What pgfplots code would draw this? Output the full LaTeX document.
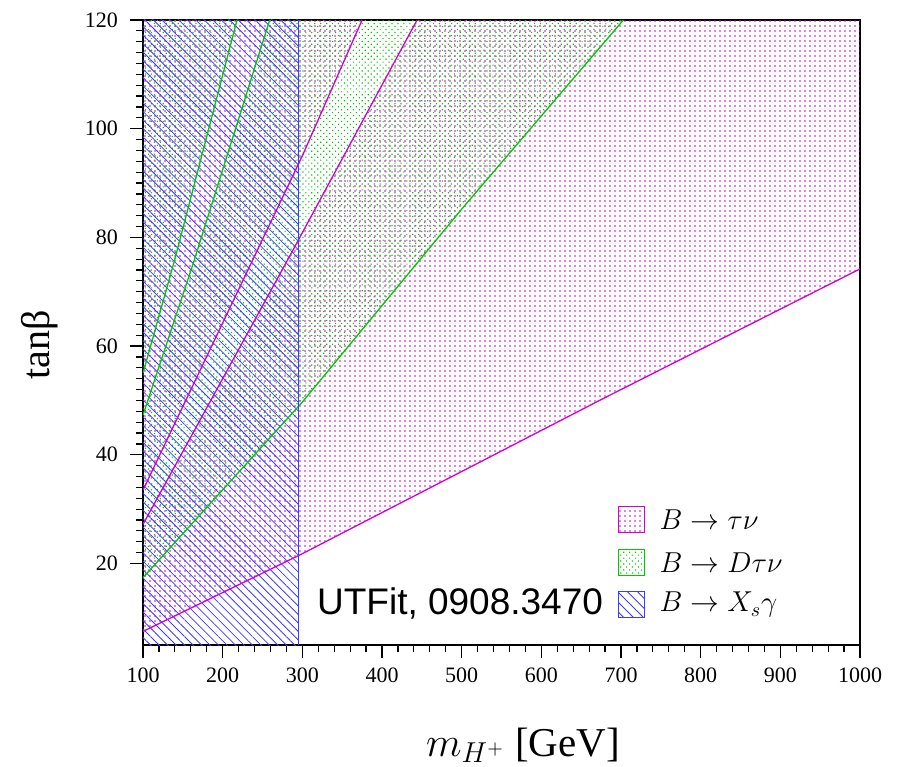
\documentclass[border=0pt]{standalone}
\usepackage{pgfplots}
\pgfplotsset{compat=1.18}
\usepackage{fontspec}
\setmainfont{Liberation Serif}
\setsansfont{Liberation Sans}
\usetikzlibrary{patterns.meta,calc}

\definecolor{mag}{RGB}{210,0,210}
\definecolor{grn}{RGB}{0,200,0}
\definecolor{blu}{RGB}{60,60,255}

\tikzset{
  magpat/.style={pattern={Dots[distance=2.5pt, radius=0.4pt]}, pattern color=mag},
  grnpat/.style={pattern={Dots[distance=2.1pt, radius=0.42pt, angle=45]}, pattern color=grn},
  blupat/.style={pattern={Lines[angle=-45, distance=3pt, line width=0.4pt]}, pattern color=blu},
}
\pgfplotsset{
  edge/.style={forget plot, line width=0.65pt, mark=none},
}

\begin{document}
\begin{tikzpicture}
\begin{axis}[
  scale only axis, width=358.5pt, height=312.5pt,
  xmin=100, xmax=1000, ymin=5, ymax=120,
  xtick={100,200,...,1000}, ytick={20,40,...,120},
  minor x tick num=4, minor y tick num=9,
  tick align=outside, tick pos=left,
  major tick length=6.5pt, minor tick length=3.5pt,
  axis line style={line width=0.6pt},
  every tick/.style={black, line width=0.6pt},
  /pgf/number format/assume math mode=true,
  /pgf/number format/1000 sep={},
  tick label style={font=\fontsize{11}{13}\selectfont},
  yticklabel style={xshift=-2.5pt},
  xticklabel style={yshift=-1.5pt},
  xlabel={$m_{H^+}$ [GeV]}, ylabel={tanβ},
  every axis x label/.style={at={(axis description cs:0.53,-0.16)}, anchor=center, font=\fontsize{20.5}{24}\selectfont},
  every axis y label/.style={at={(axis description cs:-0.1437,0.48)}, anchor=center, rotate=90, font=\fontsize{20}{24}\selectfont},
]
\coordinate (bl) at (rel axis cs:0,0);
\coordinate (tr) at (rel axis cs:1,1);

% B -> tau nu excluded
\addplot[forget plot, draw=none, magpat] coordinates {(100,7.5) (300,21.8) (673,50) (1000,74.2) (1000,120) (444,120) (288,77.6) (100,27.2)} -- cycle;
\addplot[forget plot, draw=none, magpat] coordinates {(100,33.5) (300,95) (375,120) (100,120)} -- cycle;
% B -> D tau nu excluded
\addplot[forget plot, draw=none, grnpat] coordinates {(100,17.4) (300,49.7) (500,85.2) (703,120) (259,120) (163,75.2) (100,47.3)} -- cycle;
\addplot[forget plot, draw=none, grnpat] coordinates {(100,55) (140,76) (218,120) (100,120)} -- cycle;
% B -> Xs gamma excluded
\addplot[forget plot, draw=none, blupat] coordinates {(100,5) (295,5) (295,120) (100,120)} -- cycle;

% boundaries
\addplot[edge, mag] coordinates {(100,7.5) (300,21.8) (673,50) (1000,74.2)};
\addplot[edge, mag] coordinates {(100,27.2) (288,77.6) (444,120)};
\addplot[edge, mag] coordinates {(100,33.5) (300,95) (375,120)};
\addplot[edge, grn] coordinates {(100,17.4) (300,49.7) (500,85.2) (703,120)};
\addplot[edge, grn] coordinates {(100,47.3) (163,75.2) (259,120)};
\addplot[edge, grn] coordinates {(100,55) (140,76) (218,120)};
\addplot[edge, blu] coordinates {(295,5) (295,120)};

% legend
\draw[mag, line width=0.6pt, magpat] (axis cs:697,30.5) rectangle ++(13pt,-13pt);
\node[anchor=west, font=\fontsize{14}{17}\selectfont] at ([xshift=17pt]axis cs:697,28.1) {$B\to\tau\nu$};
\draw[grn, line width=0.6pt, grnpat] (axis cs:697,22.6) rectangle ++(13pt,-13pt);
\node[anchor=west, font=\fontsize{14}{17}\selectfont] at ([xshift=17pt]axis cs:697,20.2) {$B\to D\tau\nu$};
\draw[blu, line width=0.6pt, pattern={Lines[angle=-45, distance=3.5pt, line width=0.45pt]}, pattern color=blu] (axis cs:697,14.8) rectangle ++(13pt,-13pt);
\node[anchor=west, font=\fontsize{14}{17}\selectfont] at ([xshift=17pt]axis cs:697,12.4) {$B\to X_s\gamma$};

\node[font=\fontsize{18.5}{22}\selectfont\sffamily, anchor=center] at (axis cs:498,12.6) {UTFit, 0908.3470};
\end{axis}
\pgfresetboundingbox
\path[use as bounding box] ($(bl)+(-71.5pt,-60.5pt)$) rectangle ($(tr)+(21pt,10pt)$);
\end{tikzpicture}
\end{document}
